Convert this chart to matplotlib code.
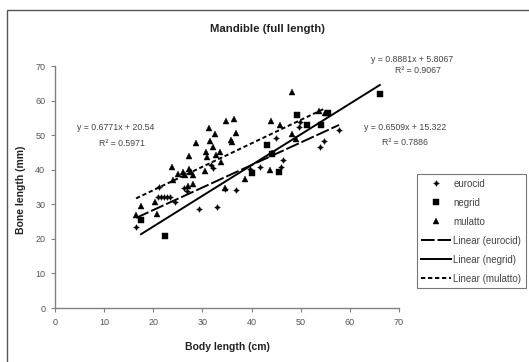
import matplotlib
matplotlib.use('Agg')
import matplotlib.pyplot as plt
from matplotlib.patches import Rectangle
import numpy as np

plt.rcParams['font.family'] = ['Liberation Sans', 'DejaVu Sans']

# ---------------- data ----------------
title = "Mandible (full length)"
xlabel = "Body length (cm)"
ylabel = "Bone length (mm)"
series_names = ["eurocid", "negrid", "mulatto"]

eurocid_x = [16.5, 21.0, 21.6, 22.2, 22.8, 23.4, 21.2, 24.4, 26.2, 26.8, 29.4, 32.9, 32.1, 31.8,
             34.6, 36.8, 39.7, 41.7, 44.2, 45.0, 45.9, 46.3, 49.7, 49.9, 53.9, 54.8, 57.8]
eurocid_y = [23.3, 32.0, 32.2, 32.0, 32.2, 32.0, 34.9, 30.7, 34.7, 33.7, 28.6, 29.3, 40.4, 41.3,
             34.5, 34.0, 40.1, 40.9, 44.7, 49.1, 40.7, 42.8, 52.5, 53.9, 46.7, 48.2, 51.5]

negrid_x = [17.5, 22.4, 40.0, 43.1, 44.1, 45.6, 49.2, 51.2, 54.1, 55.6, 66.1]
negrid_y = [25.4, 20.8, 39.1, 47.2, 44.5, 39.4, 55.8, 52.8, 52.8, 56.3, 61.9]

mulatto_x = [16.5, 17.4, 20.8, 20.3, 23.8, 25.1, 26.0, 26.4, 27.2, 27.6, 28.1, 28.1, 27.3, 28.6,
             30.5, 30.8, 30.9, 31.4, 31.6, 32.1, 32.5, 32.7, 33.5, 33.7, 34.7, 36.5, 35.8, 36.1,
             36.8, 34.6, 38.6, 43.9, 43.8, 45.7, 48.2, 48.3, 49.1, 53.8, 55.0, 44.2, 27.0, 24.1]
mulatto_y = [27.0, 29.5, 27.1, 30.6, 40.8, 38.8, 39.4, 38.4, 40.3, 39.4, 38.4, 35.9, 44.0, 47.6,
             39.6, 45.0, 43.7, 52.0, 48.3, 46.6, 50.2, 44.2, 45.0, 42.3, 54.1, 54.8, 48.6, 47.9,
             50.5, 34.8, 37.3, 54.2, 40.0, 52.8, 50.3, 62.5, 49.0, 56.9, 56.4, 44.8, 35.3, 37.0]

# trend-line coefficients as printed on the chart (eurocid, negrid, mulatto)
trend_slope = [0.6509, 0.8881, 0.6771]
trend_intercept = [15.322, 5.8067, 20.54]
trend_r2 = [0.7886, 0.9067, 0.5971]

xticks = [0, 10, 20, 30, 40, 50, 60, 70]
yticks = [0, 10, 20, 30, 40, 50, 60, 70]

# ---------------- figure ----------------
W, H = 529, 362
fig = plt.figure(figsize=(W / 100, H / 100), dpi=100)
fig.patch.set_facecolor('white')


def fpos(x, y):
    return (x / W, 1 - y / H)


ax = fig.add_axes([55 / W, 1 - 308 / H, 344 / W, 242 / H])
ax.set_xlim(0, 70)
ax.set_ylim(0, 70)
ax.set_xticks(xticks)
ax.set_yticks(yticks)
for s in ['top', 'right']:
    ax.spines[s].set_visible(False)
for s in ['left', 'bottom']:
    ax.spines[s].set_color('#808080')
    ax.spines[s].set_linewidth(1.0)
ax.tick_params(direction='out', length=3, width=0.8, color='#808080',
               labelsize=6.5, labelcolor='#555555', pad=4)

xs = [eurocid_x, negrid_x, mulatto_x]
ys = [eurocid_y, negrid_y, mulatto_y]
markers = [(4, 1, 0), 's', '^']
msizes = [4.2, 4.0, 4.5]
handles = []
for sx, sy, m, ms, name in zip(xs, ys, markers, msizes, series_names):
    h, = ax.plot(sx, sy, linestyle='none', marker=m, markersize=ms, color='black',
                 markeredgewidth=0.3, label=name)
    handles.append(h)

styles = [(0, (7, 1.5)), '-', (0, (2.2, 1.4))]
for sx, k, b, ls, name in zip(xs, trend_slope, trend_intercept, styles, series_names):
    xr = np.array([min(sx), max(sx)])
    h, = ax.plot(xr, k * xr + b, color='black', linestyle=ls, linewidth=1.4,
                 label='Linear (%s)' % name)
    handles.append(h)

# equations
eq_pos = [((405, 127), (405, 143)), ((412, 60), (418, 70.5)), ((116, 128), (122, 144))]
for k, b, r2, (p1, p2) in zip(trend_slope, trend_intercept, trend_r2, eq_pos):
    fig.text(*fpos(*p1), 'y = %gx + %g' % (k, b), ha='center', va='center',
             fontsize=6.3, color='#444444')
    fig.text(*fpos(*p2), 'R² = %g' % r2, ha='center', va='center',
             fontsize=6.3, color='#444444')

fig.text(*fpos(268, 28.5), title, ha='center', va='center', fontsize=8.2,
         fontweight='bold', color='#222222')
fig.text(*fpos(21, 190), ylabel, ha='center', va='center', rotation=90,
         fontsize=7.5, fontweight='bold', color='#222222')
fig.text(*fpos(227, 347), xlabel, ha='center', va='center',
         fontsize=7.5, fontweight='bold', color='#222222')

leg = fig.legend(handles, [h.get_label() for h in handles], loc='upper left',
                 bbox_to_anchor=fpos(416.5, 174), frameon=True, fancybox=False,
                 fontsize=7, handlelength=3.0, handletextpad=0.3, labelspacing=0.92,
                 borderpad=0.5, borderaxespad=0, numpoints=1, edgecolor='#555555',
                 labelcolor='#444444')
leg.get_frame().set_linewidth(0.8)

# outer chart-area border (cut off at right and bottom)
fig.patches.append(Rectangle((7 / W, -0.05), 1.0, 1 - 10 / H + 0.05,
                             transform=fig.transFigure, fill=False,
                             edgecolor='#555555', linewidth=1.0))

fig.savefig('out.png', dpi=100)
